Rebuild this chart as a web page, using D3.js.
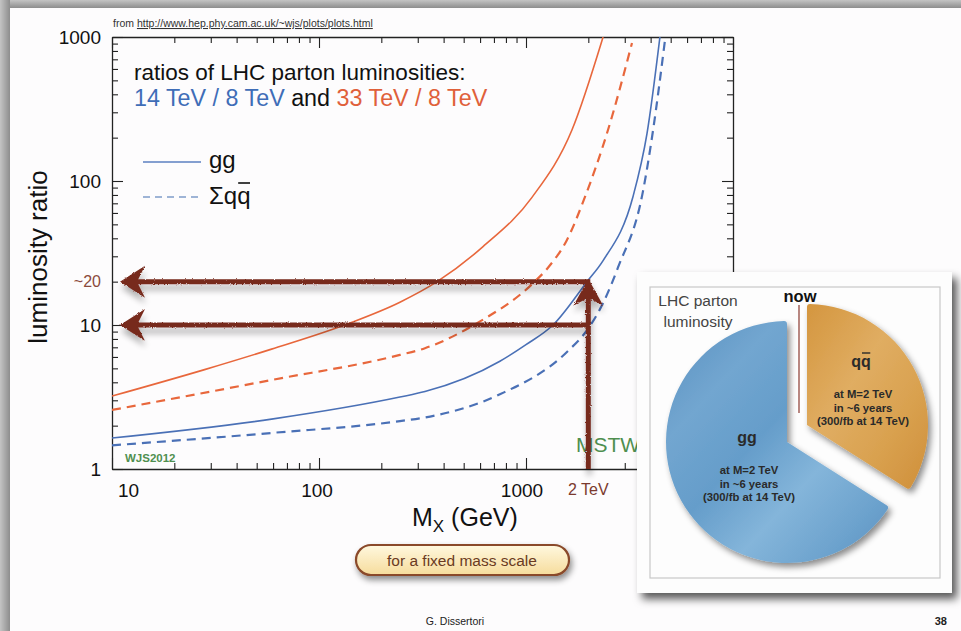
<!DOCTYPE html>
<html><head><meta charset="utf-8">
<script src="https://cdn.jsdelivr.net/npm/d3@7"></script>
<style>
html,body{margin:0;padding:0;background:#fff;}
svg{display:block;font-family:"Liberation Sans",Arial,Helvetica,sans-serif;}
</style></head><body>
<svg id="chart" width="961" height="631"></svg>
<script>
// ---------------- data ----------------
// gg, 14 TeV / 8 TeV (blue solid)
const ggMass14  = [10, 59, 246, 325, 748, 1000, 1350, 1972, 2357, 3289, 3845, 4436];
const ggRatio14 = [1.64, 2.22, 3.16, 3.45, 5.6, 7.3, 10, 20, 28, 78, 215, 1000];
// sum qqbar, 14 TeV / 8 TeV (blue dashed)
const qqMass14  = [10, 59, 246, 325, 748, 1577, 1972, 2357, 2780, 3675, 4111, 4690];
const qqRatio14 = [1.46, 1.78, 2.15, 2.28, 3.3, 6.5, 9.2, 14.2, 25, 85, 226, 947];
// gg, 33 TeV / 8 TeV (orange solid)
const ggMass33  = [10, 28, 59, 138, 246, 372, 620, 1069, 1667, 2357];
const ggRatio33 = [3.21, 4.9, 6.8, 10.2, 14.4, 20, 35, 77, 226, 1000];
// sum qqbar, 33 TeV / 8 TeV (orange dashed)
const qqMass33  = [10, 59, 246, 325, 580, 1081, 1277, 1577, 1927, 2489, 3251];
const qqRatio33 = [2.57, 4.15, 6.2, 6.9, 10.3, 19.5, 25, 39, 77.5, 226, 908];

const xDomain = [10, 10000];
const yDomain = [1, 1000];
const xTickLabels = [10, 100, 1000];
const yTickLabels = [1, 10, 100, 1000];
const markedMass = 2000;          // "2 TeV"
const markedRatios = [20, 10];    // "~20" and "10" arrows

const pieNames  = ["qq", "gg"];
const pieShares = [34, 66];
const pieNotes  = ["at M=2 TeV", "in ~6 years", "(300/fb at 14 TeV)"];

// ---------------- setup ----------------
const svg = d3.select("#chart");
const W = 961, H = 631;
const x = d3.scaleLog().domain(xDomain).range([112, 733]);
const y = d3.scaleLog().domain(yDomain).range([469, 37]);
const blue = "#4a70b6", orange = "#e8673c", arrowCol = "#772a1e";

const defs = svg.append("defs");
const gTop = defs.append("linearGradient").attr("id","gTop").attr("x1",0).attr("y1",0).attr("x2",0).attr("y2",1);
gTop.append("stop").attr("offset","0%").attr("stop-color","#c4c4c4");
gTop.append("stop").attr("offset","100%").attr("stop-color","#8d8d8d");
const gLeft = defs.append("linearGradient").attr("id","gLeft").attr("x1",0).attr("y1",0).attr("x2",1).attr("y2",0);
gLeft.append("stop").attr("offset","0%").attr("stop-color","#c4c4c4");
gLeft.append("stop").attr("offset","100%").attr("stop-color","#8d8d8d");

const clip = defs.append("clipPath").attr("id","plotClip");
clip.append("rect").attr("x",112).attr("y",37).attr("width",621).attr("height",432);

const fA = defs.append("filter").attr("id","arrowFx").attr("filterUnits","userSpaceOnUse")
  .attr("x",0).attr("y",0).attr("width",W).attr("height",H);
fA.append("feTurbulence").attr("type","fractalNoise").attr("baseFrequency",0.9).attr("numOctaves",2).attr("seed",4).attr("result","n");
fA.append("feDisplacementMap").attr("in","SourceGraphic").attr("in2","n").attr("scale",2.5)
  .attr("xChannelSelector","R").attr("yChannelSelector","G").attr("result","d");
fA.append("feGaussianBlur").attr("in","SourceAlpha").attr("stdDeviation",3).attr("result","b");
fA.append("feOffset").attr("in","b").attr("dx",1).attr("dy",6).attr("result","o");
fA.append("feComponentTransfer").attr("in","o").attr("result","s")
  .append("feFuncA").attr("type","linear").attr("slope",0.3);
const mA = fA.append("feMerge"); mA.append("feMergeNode").attr("in","s"); mA.append("feMergeNode").attr("in","d");

function shadowFilter(id, dx, dy, sd, op){
  const f = defs.append("filter").attr("id",id).attr("filterUnits","userSpaceOnUse")
    .attr("x",0).attr("y",0).attr("width",W).attr("height",H);
  f.append("feDropShadow").attr("dx",dx).attr("dy",dy).attr("stdDeviation",sd)
    .attr("flood-color","#000").attr("flood-opacity",op);
}
shadowFilter("boxShadow", 5, 6, 4, 0.65);
shadowFilter("pieShadow", 3, 4, 3, 0.45);
shadowFilter("btnShadow", 2, 4, 3, 0.45);

const gBlue = defs.append("linearGradient").attr("id","gBlue").attr("x1",0).attr("y1",0).attr("x2",1).attr("y2",1);
[["0%","#5a90c0"],["25%","#72a6d0"],["45%","#659dca"],["65%","#84b5da"],["85%","#6ca2cd"],["100%","#5a8fbf"]]
  .forEach(s=>gBlue.append("stop").attr("offset",s[0]).attr("stop-color",s[1]));
const gOr = defs.append("linearGradient").attr("id","gOr").attr("x1",0).attr("y1",0).attr("x2",1).attr("y2",1);
[["0%","#d4963f"],["40%","#e0ad62"],["70%","#d9a14f"],["100%","#cf8f3a"]]
  .forEach(s=>gOr.append("stop").attr("offset",s[0]).attr("stop-color",s[1]));
const gBtn = defs.append("linearGradient").attr("id","gBtn").attr("x1",0).attr("y1",0).attr("x2",0).attr("y2",1);
gBtn.append("stop").attr("offset","0%").attr("stop-color","#fff8df");
gBtn.append("stop").attr("offset","100%").attr("stop-color","#f6dc9c");

function overline(textSel, from, n, rise, width){
  const node = textSel.node();
  const x0 = node.getStartPositionOfChar(from).x;
  const x1 = node.getEndPositionOfChar(from+n-1).x;
  const yb = +textSel.attr("y");
  svg.append("line").attr("x1",x0+1).attr("x2",x1-0.5).attr("y1",yb-rise).attr("y2",yb-rise)
    .attr("stroke",textSel.attr("fill")).attr("stroke-width",width);
}

// ---------------- page ----------------
svg.append("rect").attr("width",W).attr("height",H).attr("fill","#9a9a9a");
svg.append("rect").attr("x",0).attr("y",0).attr("width",W).attr("height",8).attr("fill","url(#gTop)");
svg.append("rect").attr("x",0).attr("y",0).attr("width",10).attr("height",H).attr("fill","url(#gLeft)");
svg.append("rect").attr("x",10).attr("y",8).attr("width",W-10).attr("height",H-8).attr("fill","#fdfcfd");

const src = svg.append("text").attr("x",113).attr("y",27).attr("font-size",10.5).attr("fill","#333");
src.append("tspan").text("from ");
src.append("tspan").attr("text-decoration","underline").text("http://www.hep.phy.cam.ac.uk/~wjs/plots/plots.html");

// ---------------- axes ----------------
function logTicks(lo, hi){
  const t=[]; for(let d=lo; d<hi; d*=10){ for(let k=1;k<10;k++) t.push(d*k); } t.push(hi); return t;
}
const xt = logTicks(10, 10000), yt = logTicks(1, 1000);
const isMajor = v => Math.abs(Math.log10(v) - Math.round(Math.log10(v))) < 1e-9;

function styleAxis(g, len){
  g.select(".domain").attr("stroke","#222").attr("stroke-width",1.3);
  g.selectAll(".tick line").attr("stroke","#222").attr("stroke-width",1.1)
    .each(function(d){ const l=d3.select(this);
      ["x2","y2"].forEach(a=>{ const v=+l.attr(a); if(v) l.attr(a, Math.sign(v)*(isMajor(d)?len[0]:len[1])); }); });
}
const axB = svg.append("g").attr("transform","translate(0,469)")
  .call(d3.axisBottom(x).tickValues(xt).tickSizeInner(-6).tickSizeOuter(0).tickFormat(""));
styleAxis(axB,[11,6]);
const axT = svg.append("g").attr("transform","translate(0,37)")
  .call(d3.axisTop(x).tickValues(xt).tickSizeInner(-6).tickSizeOuter(0).tickFormat(""));
styleAxis(axT,[11,6]);
const axL = svg.append("g").attr("transform","translate(112,0)")
  .call(d3.axisLeft(y).tickValues(yt).tickSizeInner(-6).tickSizeOuter(0).tickFormat(""));
styleAxis(axL,[11,6]);
const axR = svg.append("g").attr("transform","translate(733,0)")
  .call(d3.axisRight(y).tickValues(yt).tickSizeInner(-6).tickSizeOuter(0).tickFormat(""));
styleAxis(axR,[11,6]);

svg.append("g").selectAll("text").data(yTickLabels).join("text")
  .attr("x",101).attr("y",d=>y(d)).attr("dy","0.36em").attr("text-anchor","end")
  .attr("font-size",19).attr("fill","#111").text(d=>d);
svg.append("g").selectAll("text").data(xTickLabels).join("text")
  .attr("x",(d,i)=>x(d)+(i===0?6:(i===2?-4:-2))).attr("y",497)
  .attr("text-anchor",(d,i)=>i===0?"start":"middle")
  .attr("font-size",19).attr("fill","#111").text(d=>d);
svg.append("text").attr("x",101).attr("y",y(markedRatios[0])).attr("dy","0.36em").attr("text-anchor","end")
  .attr("font-size",16).attr("fill","#8b4a3c").text("~20");
svg.append("text").attr("x",x(markedMass)).attr("y",495).attr("text-anchor","middle")
  .attr("font-size",16).attr("fill","#7b3a2e").text("2 TeV");

svg.append("text").attr("transform","translate(47,257) rotate(-90)").attr("text-anchor","middle")
  .attr("font-size",26).attr("fill","#111").text("luminosity ratio");
const xl = svg.append("text").attr("x",412).attr("y",526).attr("font-size",25).attr("fill","#111");
xl.append("tspan").text("M");
xl.append("tspan").attr("font-size",17).attr("dy",6).text("X");
xl.append("tspan").attr("dy",-6).text(" (GeV)");

svg.append("text").attr("x",134).attr("y",80).attr("font-size",22.5).attr("fill","#111")
  .text("ratios of LHC parton luminosities:");
const t2 = svg.append("text").attr("x",134).attr("y",106).attr("font-size",23.3);
t2.append("tspan").attr("fill","#3f6db7").text("14 TeV / 8 TeV");
t2.append("tspan").attr("fill","#111").text(" and ");
t2.append("tspan").attr("fill","#e0603a").text("33 TeV / 8 TeV");

svg.append("line").attr("x1",143).attr("x2",201).attr("y1",162).attr("y2",162)
  .attr("stroke","#5b80c0").attr("stroke-width",1.4);
svg.append("text").attr("x",209).attr("y",168).attr("font-size",24).attr("fill","#111").text("gg");
svg.append("line").attr("x1",143).attr("x2",201).attr("y1",197).attr("y2",197)
  .attr("stroke","#7f9cc9").attr("stroke-width",1.4).attr("stroke-dasharray","7,5");
const lq = svg.append("text").attr("x",209).attr("y",204).attr("font-size",24).attr("fill","#111").text("Σqq");
overline(lq, 2, 1, 21, 1.6);

svg.append("text").attr("x",125).attr("y",462).attr("font-size",11.5).attr("font-weight","bold")
  .attr("fill","#4f8f4f").text("WJS2012");
svg.append("text").attr("x",576).attr("y",452).attr("font-size",21).attr("fill","#4f8f4f").text("MSTW2008");

// ---------------- curves ----------------
const series = [
  {m: ggMass33, v: ggRatio33, c: orange, dash: null, w: 1.6},
  {m: qqMass33, v: qqRatio33, c: orange, dash: "9,6", w: 2.2},
  {m: ggMass14, v: ggRatio14, c: blue, dash: null, w: 1.6},
  {m: qqMass14, v: qqRatio14, c: blue, dash: "9,6", w: 2.2}
];
const line = d3.line().x(d=>x(d[0])).y(d=>y(d[1])).curve(d3.curveMonotoneX);
const gc = svg.append("g").attr("clip-path","url(#plotClip)");
series.forEach(s=>{
  gc.append("path").datum(s.m.map((m,i)=>[m,s.v[i]])).attr("d",line)
    .attr("fill","none").attr("stroke",s.c).attr("stroke-width",s.w)
    .attr("stroke-dasharray",s.dash);
});

// ---------------- arrows ----------------
const ga = svg.append("g").attr("filter","url(#arrowFx)");
const xm = x(markedMass);
markedRatios.forEach(r=>{
  const yy = y(r);
  ga.append("line").attr("x1",134).attr("x2",xm+2).attr("y1",yy).attr("y2",yy)
    .attr("stroke",arrowCol).attr("stroke-width",5);
  ga.append("path").attr("d",`M120,${yy} L145,${yy-16} L137,${yy} L145,${yy+16} Z`).attr("fill",arrowCol);
});
const yt20 = y(markedRatios[0]);
ga.append("line").attr("x1",xm).attr("x2",xm).attr("y1",469).attr("y2",yt20+10)
  .attr("stroke",arrowCol).attr("stroke-width",5);
ga.append("path").attr("d",`M${xm},${yt20-3} L${xm+15},${yt20+24} L${xm},${yt20+16} L${xm-15},${yt20+24} Z`)
  .attr("fill",arrowCol);

// ---------------- button ----------------
svg.append("rect").attr("x",356).attr("y",545).attr("width",213).attr("height",30).attr("rx",15)
  .attr("fill","url(#gBtn)").attr("stroke","#8a4a2a").attr("stroke-width",2.2).attr("filter","url(#btnShadow)");
svg.append("text").attr("x",462).attr("y",566).attr("text-anchor","middle").attr("font-size",15.5)
  .attr("fill","#6a3a22").text("for a fixed mass scale");

svg.append("text").attr("x",455).attr("y",625).attr("text-anchor","middle").attr("font-size",10.5)
  .attr("fill","#222").text("G. Dissertori");
svg.append("text").attr("x",947).attr("y",625).attr("text-anchor","end").attr("font-size",11)
  .attr("font-weight","bold").attr("fill","#222").text("38");

// ---------------- inset ----------------
svg.append("rect").attr("x",637).attr("y",272).attr("width",315).attr("height",321)
  .attr("fill","#fdfdfd").attr("filter","url(#boxShadow)");
svg.append("rect").attr("x",650).attr("y",287).attr("width",290).attr("height",291)
  .attr("fill","#fdfdfd").attr("stroke","#c8c8c8").attr("stroke-width",1.2);

const pieC = [787, 442], pieR = 121;
const pie = d3.pie().sort(null).startAngle(0).endAngle(2*Math.PI);
const arcs = pie(pieShares);
const arc = d3.arc().innerRadius(0).outerRadius(pieR).cornerRadius(3);
const gp = svg.append("g").attr("filter","url(#pieShadow)");
arcs.forEach((a,i)=>{
  const off = i===0 ? [20,-17] : [0,0];
  gp.append("path").attr("d",arc(a))
    .attr("transform",`translate(${pieC[0]+off[0]},${pieC[1]+off[1]})`)
    .attr("fill", i===0 ? "url(#gOr)" : "url(#gBlue)");
});
svg.append("line").attr("x1",799).attr("x2",799).attr("y1",305).attr("y2",413)
  .attr("stroke","#8a3a30").attr("stroke-width",1.2);
svg.append("text").attr("x",800).attr("y",302).attr("text-anchor","middle").attr("font-size",16.5)
  .attr("font-weight","bold").attr("fill","#111").text("now");
svg.append("text").attr("x",698).attr("y",306).attr("text-anchor","middle").attr("font-size",15.5)
  .attr("fill","#444").text("LHC parton");
svg.append("text").attr("x",698).attr("y",327).attr("text-anchor","middle").attr("font-size",15.5)
  .attr("fill","#444").text("luminosity");

function pieLabel(cx, cy, name, bar){
  const t = svg.append("text").attr("x",cx).attr("y",cy).attr("text-anchor","middle")
    .attr("font-size",16).attr("font-weight","bold").attr("fill","#2a2a2a").text(name);
  if(bar) overline(t, 1, 1, 14, 1.4);
  pieNotes.forEach((s,k)=>{
    svg.append("text").attr("x",cx+2).attr("y",cy+31+k*13.5).attr("text-anchor","middle")
      .attr("font-size",11.3).attr("font-weight","bold").attr("fill","#2a2a2a").text(s);
  });
}
pieLabel(747, 443, pieNames[1], false);
pieLabel(861, 367, pieNames[0], true);
</script>
</body></html>
